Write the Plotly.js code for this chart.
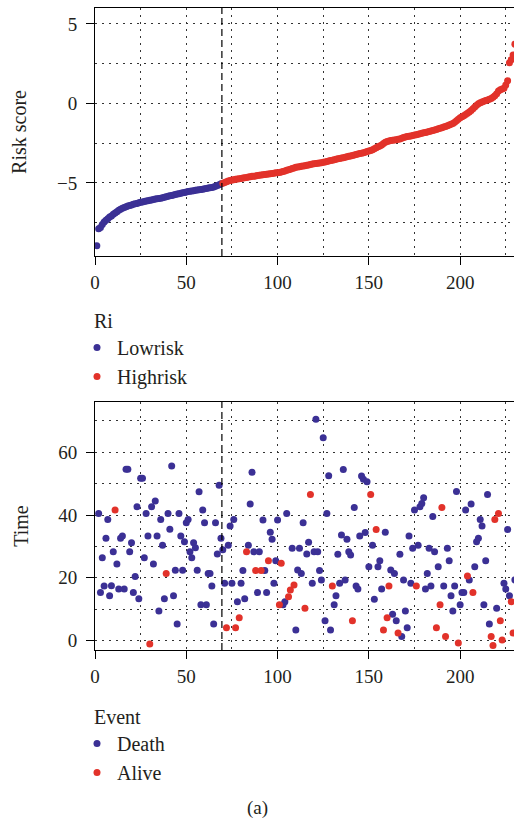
<!DOCTYPE html>
<html><head><meta charset="utf-8">
<script src="https://cdn.plot.ly/plotly-3.0.1.min.js"></script>
<style>html,body{margin:0;padding:0;background:#fff}#chart{width:514px;height:827px}</style>
</head><body><div id="chart"></div>
<script>
// ---- Data ----
const riskLow = [
 -8.95,-7.88,-7.80,-7.62,-7.46,-7.35,-7.25,-7.15,-7.08,-6.98,
 -6.90,-6.82,-6.72,-6.66,-6.60,-6.55,-6.50,-6.46,-6.42,-6.39,
 -6.35,-6.32,-6.29,-6.25,-6.22,-6.20,-6.17,-6.14,-6.12,-6.09,
 -6.07,-6.04,-6.02,-6.00,-5.98,-5.96,-5.93,-5.90,-5.87,-5.84,
 -5.81,-5.79,-5.76,-5.73,-5.70,-5.68,-5.65,-5.62,-5.60,-5.57,
 -5.54,-5.52,-5.51,-5.49,-5.47,-5.45,-5.44,-5.42,-5.40,-5.37,
 -5.35,-5.33,-5.31,-5.29,-5.26,-5.22,-5.16,-5.12,-5.06
];
const riskHigh = [
 -5.02,-4.97,-4.93,-4.89,-4.85,-4.82,-4.80,-4.78,-4.76,-4.74,
 -4.72,-4.70,-4.68,-4.66,-4.63,-4.61,-4.59,-4.58,-4.56,-4.54,
 -4.52,-4.51,-4.49,-4.47,-4.46,-4.44,-4.43,-4.41,-4.39,-4.37,
 -4.36,-4.34,-4.31,-4.28,-4.25,-4.21,-4.18,-4.14,-4.10,-4.06,
 -4.02,-4.00,-3.98,-3.96,-3.94,-3.92,-3.89,-3.87,-3.85,-3.82,
 -3.80,-3.78,-3.77,-3.75,-3.73,-3.71,-3.68,-3.65,-3.62,-3.60,
 -3.57,-3.55,-3.52,-3.49,-3.46,-3.44,-3.42,-3.39,-3.36,-3.33,
 -3.31,-3.28,-3.25,-3.22,-3.19,-3.16,-3.13,-3.10,-3.07,-3.03,
 -3.00,-2.96,-2.91,-2.85,-2.79,-2.73,-2.68,-2.61,-2.53,-2.45,
 -2.40,-2.36,-2.34,-2.32,-2.30,-2.28,-2.26,-2.24,-2.20,-2.15,
 -2.11,-2.09,-2.07,-2.05,-2.02,-1.99,-1.97,-1.94,-1.91,-1.88,
 -1.85,-1.83,-1.80,-1.77,-1.74,-1.71,-1.68,-1.64,-1.60,-1.57,
 -1.53,-1.49,-1.45,-1.41,-1.36,-1.31,-1.26,-1.18,-1.09,-1.00,
 -0.91,-0.84,-0.77,-0.70,-0.62,-0.54,-0.44,-0.33,-0.22,-0.12,
 -0.03,0.04,0.09,0.13,0.18,0.22,0.26,0.31,0.38,0.48,
 0.61,0.78,0.86,0.90,0.95,1.15,1.42,2.55,2.75,3.05,
 3.72
];
const cutoff = 69.5;

const deathIdx = [
 2,3,4,5,6,7,8,9,10,12,
 13,14,15,16,17,18,19,20,21,22,
 23,24,25,26,27,28,29,31,32,33,
 34,35,36,37,38,40,41,42,43,44,
 45,46,47,48,49,50,51,52,53,54,
 55,56,57,58,59,60,61,62,63,64,
 65,66,67,68,69,70,71,73,74,75,
 76,78,80,81,82,84,85,86,87,89,
 90,92,93,94,96,97,98,99,100,103,
 104,105,108,110,111,112,113,114,116,117,
 119,120,121,122,123,124,125,126,127,128,
 129,131,132,133,134,135,136,137,138,139,
 140,142,143,144,145,146,147,148,149,150,
 152,153,155,156,157,159,162,163,164,165,
 167,168,169,170,171,172,173,174,175,177,
 178,179,180,181,182,183,184,185,186,188,
 191,193,194,195,196,197,198,200,201,202,
 203,205,206,208,209,210,211,212,213,214,
 215,216,220,224,225,226,227,230
];
const deathTime = [
 40.5,15.3,26.4,17.4,32.6,38.6,14.3,17.5,28.3,24.4,
 16.4,32.6,33.3,16.4,54.6,54.6,28.3,31.2,15.3,20.4,
 42.6,13.3,51.7,51.7,26.4,40.5,33.3,42.6,24.4,44.5,
 33.3,9.4,38.6,30.4,13.3,40.5,35.5,55.6,14.3,22.4,
 5.3,40.5,33.3,22.4,31.5,37.5,38.6,28.3,26.4,31.2,
 29.6,22.4,47.4,11.4,41.6,37.5,11.4,21.4,21.4,17.4,
 5.3,37.5,27.6,49.5,32.6,28.9,18.3,30.4,36.5,18.3,
 38.6,12.4,18.3,22.3,13.3,30.4,43.5,53.6,28.3,15.3,
 28.3,38.4,22.3,15.3,34.5,32.3,18.3,25.4,38.4,11.4,
 12.4,40.5,29.4,3.4,22.5,29.4,21.4,37.5,27.6,31.3,
 18.3,28.3,70.5,28.3,22.3,19.3,64.6,6.3,40.5,52.5,
 3.4,11.4,14.3,27.5,18.3,33.6,54.5,19.3,32.3,28.3,
 27.3,42.4,17.4,16.4,33.3,52.4,51.4,34.4,50.6,23.5,
 30.4,13.2,23.5,25.4,16.4,34.5,22.5,8.4,21.4,6.3,
 27.5,1.3,19.3,9.4,4.1,33.3,18.3,29.4,41.6,30.4,
 42.6,43.7,45.5,16.4,21.4,29.4,17.4,39.5,28.3,23.5,
 17.4,29.4,25.4,14.3,9.4,17.4,47.5,11.4,15.3,15.3,
 41.6,19.3,43.5,23.5,31.5,32.6,38.6,36.5,11.4,25.4,
 46.5,5.3,10.3,18.3,16.4,35.4,14.3,19.3
];
const aliveIdx = [
 11,30,39,72,77,79,83,88,91,95,
 101,102,106,107,109,115,118,130,141,151,
 154,158,160,161,166,176,187,189,190,192,
 199,204,207,217,218,219,221,222,223,228,
 229
];
const aliveTime = [
 41.6,-1.1,21.4,4.1,4.1,7.3,28.3,22.3,22.3,25.4,
 11.4,24.6,14,16.1,17.7,10.3,46.5,17.4,6.3,46.5,
 35.4,3.4,7.3,17.4,2.4,17.4,4.1,11.4,42.4,1.3,
 -0.8,20.6,15.3,1.3,-1.6,38.6,40.5,6.3,0.2,12.4,
 2.4
];

// ---- Styling ----
const W = 514, H = 827;
const fx = px => px / W;
const fy = py => 1 - py / H;
const FAMILY = '"Liberation Serif", "DejaVu Serif", serif';
const TXT = '#231f20';
const BLUE = '#3b3095', RED = '#e2322a';
const GRID = '#333';
const GDASH = '2px,5px';

const lowX = riskLow.map((_, i) => i + 1);
const highX = riskHigh.map((_, i) => riskLow.length + i + 1);

const mk = c => ({color: c, size: 7, line: {width: 0}});
const traces = [
  {x: lowX, y: riskLow, type: 'scatter', mode: 'markers', name: 'Lowrisk', marker: mk(BLUE), xaxis: 'x', yaxis: 'y', legend: 'legend'},
  {x: highX, y: riskHigh, type: 'scatter', mode: 'markers', name: 'Highrisk', marker: mk(RED), xaxis: 'x', yaxis: 'y', legend: 'legend'},
  {x: deathIdx, y: deathTime, type: 'scatter', mode: 'markers', name: 'Death', marker: mk(BLUE), xaxis: 'x2', yaxis: 'y2', legend: 'legend2'},
  {x: aliveIdx, y: aliveTime, type: 'scatter', mode: 'markers', name: 'Alive', marker: mk(RED), xaxis: 'x2', yaxis: 'y2', legend: 'legend2'}
];

function xAx(anchor) {
  return {
    anchor: anchor, domain: [fx(95), 1], range: [0, 229.5],
    tick0: 0, dtick: 50, ticks: 'outside', ticklen: 8, tickcolor: '#000', tickwidth: 1,
    ticklabelstandoff: 1,
    showline: true, mirror: true, linecolor: '#000', linewidth: 1, zeroline: false,
    showgrid: true, gridcolor: GRID, gridwidth: 1, griddash: GDASH,
    minor: {dtick: 25, tick0: 0, showgrid: true, gridcolor: GRID, gridwidth: 1, griddash: GDASH, ticks: ''},
    tickfont: {family: FAMILY, size: 19, color: TXT}
  };
}
function yAx(anchor, dom, rng, dt, mdt, title) {
  return {
    anchor: anchor, domain: dom, range: rng,
    tick0: 0, dtick: dt, ticks: 'outside', ticklen: 8, tickcolor: '#000', tickwidth: 1,
    ticklabelstandoff: 5,
    showline: true, mirror: true, linecolor: '#000', linewidth: 1, zeroline: false,
    showgrid: true, gridcolor: GRID, gridwidth: 1, griddash: GDASH,
    minor: {dtick: mdt, tick0: 0, showgrid: true, gridcolor: GRID, gridwidth: 1, griddash: GDASH, ticks: ''},
    tickfont: {family: FAMILY, size: 19, color: TXT},
    title: {text: title, font: {family: FAMILY, size: 20, color: TXT}, standoff: 24}
  };
}

const legendBase = {
  xanchor: 'left', yanchor: 'top', bgcolor: 'rgba(0,0,0,0)', borderwidth: 0,
  font: {family: FAMILY, size: 20, color: TXT}, itemsizing: 'trace', traceorder: 'normal',
  indentation: -15, tracegroupgap: 0
};

const layout = {
  width: W, height: H,
  margin: {l: 0, r: 0, t: 0, b: 0},
  paper_bgcolor: '#fff', plot_bgcolor: '#fff',
  font: {family: FAMILY, size: 19, color: TXT},
  showlegend: true,
  xaxis: xAx('y'),
  yaxis: yAx('x', [fy(256), fy(8)], [-9.6, 6.0], 5, 2.5, 'Risk score'),
  xaxis2: xAx('y2'),
  yaxis2: yAx('x2', [fy(650), fy(402)], [-3, 76], 20, 10, 'Time'),
  legend: Object.assign({}, legendBase, {x: fx(92), y: fy(302), title: {text: 'Ri', font: {family: FAMILY, size: 20, color: TXT}}}),
  legend2: Object.assign({}, legendBase, {x: fx(92), y: fy(698), title: {text: 'Event', font: {family: FAMILY, size: 20, color: TXT}}}),
  shapes: [
    {type: 'line', xref: 'x', yref: 'y domain', x0: cutoff, x1: cutoff, y0: 0, y1: 1, line: {color: '#000', width: 1.2, dash: '7px,4px'}},
    {type: 'line', xref: 'x2', yref: 'y2 domain', x0: cutoff, x1: cutoff, y0: 0, y1: 1, line: {color: '#000', width: 1.2, dash: '7px,4px'}}
  ],
  annotations: [
    {text: '(a)', xref: 'paper', yref: 'paper', x: fx(257), y: fy(808), xanchor: 'center', yanchor: 'middle', showarrow: false, font: {family: FAMILY, size: 19, color: TXT}}
  ]
};

Plotly.newPlot('chart', traces, layout, {staticPlot: true, displayModeBar: false});
</script>
</body></html>
